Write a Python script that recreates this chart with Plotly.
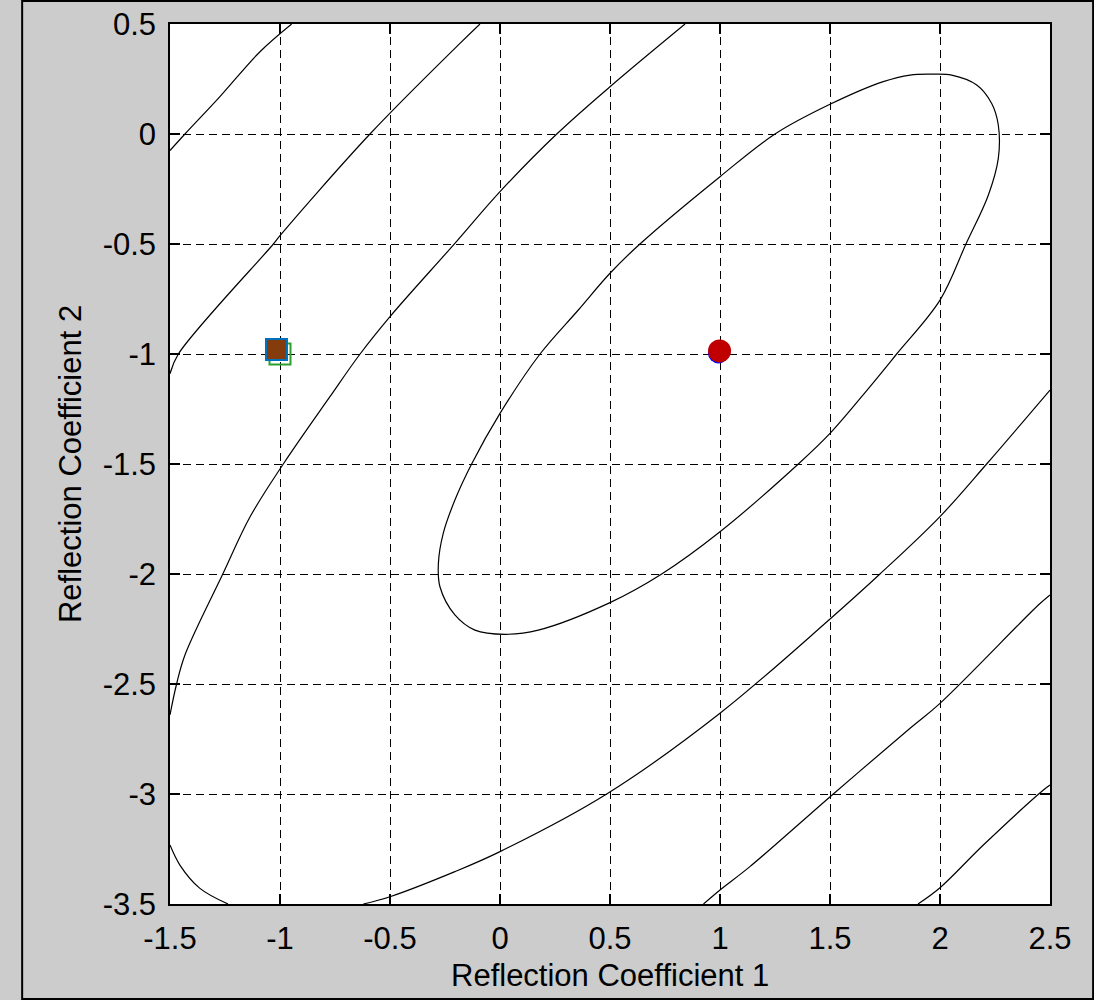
import plotly.graph_objects as go

# ---- tick labels ----
x_tickvals = [-1.5, -1.0, -0.5, 0.0, 0.5, 1.0, 1.5, 2.0, 2.5]
x_ticktext = ["-1.5", "-1", "-0.5", "0", "0.5", "1", "1.5", "2", "2.5"]
y_tickvals = [0.5, 0.0, -0.5, -1.0, -1.5, -2.0, -2.5, -3.0, -3.5]
y_ticktext = ["0.5", "0", "-0.5", "-1", "-1.5", "-2", "-2.5", "-3", "-3.5"]

# ---- contour lines ----
# level 4, upper-left corner
xA = [-1.5, -1.432, -1.273, -1.091, -0.947]
yA = [-0.075, 0.0, 0.17, 0.374, 0.5]

# level 3, upper-left
xB = [-1.5, -1.462, -1.03, -1.0, -0.591, -0.182, -0.091]
yB = [-1.09, -1.0, -0.5, -0.462, 0.0, 0.412, 0.5]

# level 2, large ellipse (three visible pieces)
xC1 = [0.841, 0.5, 0.258, 0.0, -0.205, -0.5, -0.636, -0.773, -0.985, -1.136, -1.26, -1.432, -1.47, -1.5]
yC1 = [0.5, 0.215, 0.0, -0.262, -0.497, -0.83, -1.0, -1.194, -1.5, -1.74, -2.0, -2.368, -2.5, -2.64]
xC2 = [-1.5, -1.455, -1.364, -1.236]
yC2 = [-3.232, -3.323, -3.429, -3.5]
xC3 = [-0.621, -0.5, -0.205, 0.0, 0.485, 1.0, 1.495, 1.727, 2.0, 2.212, 2.5]
yC3 = [-3.5, -3.467, -3.353, -3.262, -3.0, -2.633, -2.209, -2.0, -1.739, -1.5, -1.164]

# level 3, lower-right
xD = [0.925, 1.0, 1.136, 1.515, 1.864, 2.0, 2.447, 2.5]
yD = [-3.5, -3.436, -3.33, -3.0, -2.701, -2.588, -2.141, -2.095]

# level 4, lower-right corner
xE = [1.9, 2.0, 2.197, 2.47, 2.5]
yE = [-3.5, -3.426, -3.232, -2.982, -2.959]

# level 1, inner closed ellipse (starts and ends on its flat top)
xF = [1.96, 2.053, 2.167, 2.235, 2.265, 2.265, 2.22, 2.118, 2.0,
      1.803, 1.682, 1.5, 1.356, 1.0, 0.735, 0.5, 0.174, 0.023, -0.114, -0.205,
      -0.273, -0.28, -0.258, -0.205, -0.129, 0.0, 0.182, 0.356, 0.5, 0.636, 1.0,
      1.25, 1.5, 1.742, 1.864, 1.96]
yF = [0.272, 0.268, 0.223, 0.139, 0.041, -0.111, -0.277, -0.5, -0.755,
      -1.0, -1.148, -1.361, -1.5, -1.808, -2.0, -2.13, -2.255, -2.274, -2.255, -2.186,
      -2.058, -1.951, -1.815, -1.664, -1.5, -1.27, -1.0, -0.8, -0.633, -0.5, -0.194,
      0.0, 0.135, 0.238, 0.268, 0.272]

# ---- markers ----
start_green_x, start_green_y = [-1.0], [-1.0]
start_x, start_y = [-1.016], [-0.98]
opt_blue_x, opt_blue_y = [0.993], [-0.995]
opt_x, opt_y = [0.998], [-0.986]

FONT = "Liberation Sans, Arial, sans-serif"
LINE = dict(color="black", width=1.2, shape="spline", smoothing=1.0)

fig = go.Figure()
for xs, ys in [(xA, yA), (xB, yB), (xC1, yC1), (xC2, yC2), (xC3, yC3), (xD, yD), (xE, yE), (xF, yF)]:
    fig.add_trace(go.Scatter(x=xs, y=ys, mode="lines", line=LINE,
                             hoverinfo="skip", showlegend=False))

fig.add_trace(go.Scatter(x=start_green_x, y=start_green_y, mode="markers", showlegend=False,
                         marker=dict(symbol="square", size=21, color="rgba(0,0,0,0)",
                                     line=dict(color="#2ca02c", width=2))))
fig.add_trace(go.Scatter(x=start_x, y=start_y, mode="markers", showlegend=False,
                         marker=dict(symbol="square", size=21, color="#843c0c",
                                     line=dict(color="#0072bd", width=2))))
fig.add_trace(go.Scatter(x=opt_blue_x, y=opt_blue_y, mode="markers", showlegend=False,
                         marker=dict(symbol="circle", size=21, color="#0000ff",
                                     line=dict(width=0))))
fig.add_trace(go.Scatter(x=opt_x, y=opt_y, mode="markers", showlegend=False,
                         marker=dict(symbol="circle", size=23, color="#c00000",
                                     line=dict(width=0))))

axis_common = dict(
    showgrid=True, gridcolor="black", gridwidth=1.2, griddash="8px,5px",
    showline=True, linecolor="black", linewidth=1.5, mirror="ticks",
    ticks="inside", ticklen=10, tickwidth=1.5, tickcolor="black",
    zeroline=False, tickfont=dict(family=FONT, size=31, color="black"),
    ticklabelstandoff=6,
)

fig.update_layout(
    width=1094, height=1000,
    margin=dict(l=170, r=44, t=24, b=96, autoexpand=False),
    paper_bgcolor="#cccccc", plot_bgcolor="white",
    xaxis=dict(range=[-1.5, 2.5], tickmode="array", tickvals=x_tickvals, ticktext=x_ticktext,
               **axis_common),
    yaxis=dict(range=[-3.5, 0.5], tickmode="array", tickvals=y_tickvals, ticktext=y_ticktext,
               **axis_common),
    annotations=[
        dict(text="Reflection Coefficient 1", xref="paper", yref="paper", x=0.5, y=-0.0807,
             xanchor="center", yanchor="middle", showarrow=False,
             font=dict(family=FONT, size=31, color="black")),
        dict(text="Reflection Coefficient 2", xref="paper", yref="paper", x=-0.1136, y=0.5,
             xanchor="center", yanchor="middle", showarrow=False, textangle=-90,
             font=dict(family=FONT, size=31, color="black")),
    ],
    shapes=[dict(type="rect", xref="paper", yref="paper", x0=-0.168, x1=1.049, y0=-0.108, y1=1.026,
                 line=dict(color="black", width=2), layer="above")],
)

fig.write_html("out.html")
